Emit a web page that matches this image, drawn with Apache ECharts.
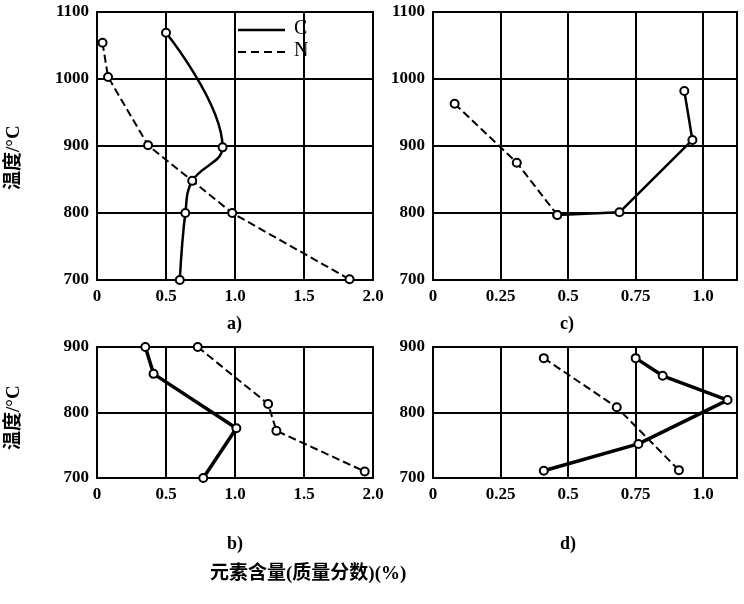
<!DOCTYPE html><html><head><meta charset="utf-8">
<script src="https://cdn.jsdelivr.net/npm/echarts@6/dist/echarts.min.js"></script>
<style>body{margin:0;background:#fff}#c{width:744px;height:604px}</style></head><body><div id="c"></div>
<script>
const aC=[[0.5,1069],[0.91,898],[0.69,848],[0.64,800],[0.6,700]];
const aN=[[0.04,1054],[0.08,1003],[0.37,901],[0.98,800],[1.83,701]];
const cN=[[0.08,963],[0.31,875],[0.46,797]];
const cC=[[0.46,797],[0.69,801],[0.96,909],[0.93,982]];
const bC=[[0.35,900],[0.41,859],[1.01,776],[0.77,700]];
const bN=[[0.73,900],[1.24,813],[1.3,772],[1.94,710]];
const dN=[[0.41,883],[0.68,808],[0.91,712]];
const dC=[[0.75,883],[0.85,856],[1.09,819],[0.76,752],[0.41,711]];
const F='"Liberation Serif","Noto Sans CJK SC",serif';
const ch=echarts.init(document.getElementById('c'));
const grids=[{left:97,top:12,width:276,height:268},{left:433,top:12,width:304,height:268},{left:97,top:347,width:276,height:131},{left:433,top:347,width:304,height:131}].map(g=>Object.assign(g,{show:true,borderColor:'#000',borderWidth:2}));
const fmtA=v=>({0:'0',0.5:'0.5',1:'1.0',1.5:'1.5',2:'2.0'}[v]??'');
const fmtC=v=>({0:'0',0.25:'0.25',0.5:'0.5',0.75:'0.75',1:'1.0'}[v]??'');
const ax={axisLine:{lineStyle:{color:'#000',width:2}},axisTick:{show:false},splitLine:{lineStyle:{color:'#000',width:2}},axisLabel:{color:'#000',fontFamily:F,fontWeight:'bold',fontSize:17}};
const xA=[0,1,2,3].map(i=>Object.assign({},ax,{gridIndex:i,type:'value',min:0,max:i%2?1.125:2,interval:i%2?0.25:0.5,axisLabel:Object.assign({},ax.axisLabel,{formatter:i%2?fmtC:fmtA})}));
const yA=[0,1,2,3].map(i=>Object.assign({},ax,{gridIndex:i,type:'value',min:700,max:i<2?1100:900,interval:100,axisLabel:Object.assign({},ax.axisLabel,{formatter:v=>String(v)})}));
const s=(d,i,dash,name,w)=>({type:'line',data:d,xAxisIndex:i,yAxisIndex:i,symbol:'emptyCircle',symbolSize:8,itemStyle:{color:'#000',borderWidth:2},lineStyle:{color:'#000',width:w||2,type:dash?'dashed':'solid'},smooth:name==='C'?0.4:false});
ch.setOption({animation:false,grid:grids,xAxis:xA,yAxis:yA,
series:[s(aC,0,false,'C',2.5),s(aN,0,true),s(cN,1,true),s(cC,1,false,null,2.5),s(bC,2,false,null,3.5),s(bN,2,true),s(dN,3,true),s(dC,3,false,null,3.5)],
graphic:[
{type:'rect',shape:{x:232,y:16,width:80,height:50},style:{fill:'#fff'}},
{type:'line',shape:{x1:238,y1:30,x2:285,y2:30},style:{stroke:'#000',lineWidth:2.5}},
{type:'line',shape:{x1:238,y1:52,x2:285,y2:52},style:{stroke:'#000',lineWidth:2,lineDash:[8,5]}},
{type:'text',left:294,top:19,style:{text:'C',font:'20px '+F}},
{type:'text',left:294,top:41,style:{text:'N',font:'20px '+F}},
{type:'text',left:227,top:315,style:{text:'a)',font:'bold 18px '+F}},
{type:'text',left:560,top:315,style:{text:'c)',font:'bold 18px '+F}},
{type:'text',left:227,top:535,style:{text:'b)',font:'bold 18px '+F}},
{type:'text',left:560,top:535,style:{text:'d)',font:'bold 18px '+F}},
{type:'text',left:210,top:565,style:{text:'元素含量(质量分数)(%)',font:'bold 19px '+F}},
{type:'text',x:5,y:190,rotation:Math.PI/2,style:{text:'温度/°C',font:'bold 19px '+F}},
{type:'text',x:5,y:450,rotation:Math.PI/2,style:{text:'温度/°C',font:'bold 19px '+F}}
]});
</script></body></html>
